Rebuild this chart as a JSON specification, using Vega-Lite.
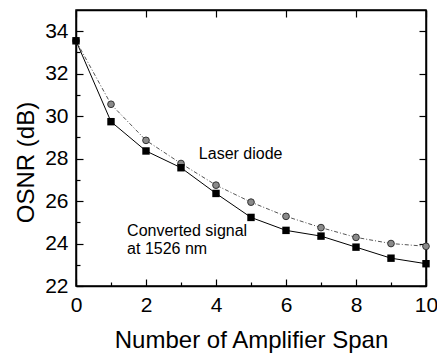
{
  "$schema": "https://vega.github.io/schema/vega-lite/v6.json",
  "width": 350,
  "height": 276,
  "autosize": "none",
  "padding": {"left": 76, "top": 10, "right": 11, "bottom": 68},
  "background": "white",
  "config": {
    "view": {"stroke": "black", "strokeWidth": 1.5},
    "font": "Liberation Sans",
    "axis": {
      "domainColor": "black",
      "domainWidth": 1.5,
      "tickColor": "black",
      "tickWidth": 1.2,
      "labelColor": "black",
      "labelFontSize": 21,
      "labelFont": "Liberation Sans",
      "titleFont": "Liberation Sans",
      "titleFontSize": 24,
      "titleFontWeight": "normal",
      "titleColor": "black",
      "grid": false
    }
  },
  "data": {
    "values": [
      {"series": "Converted", "span": 0, "osnr": 33.55},
      {"series": "Converted", "span": 1, "osnr": 29.74},
      {"series": "Converted", "span": 2, "osnr": 28.36},
      {"series": "Converted", "span": 3, "osnr": 27.57},
      {"series": "Converted", "span": 4, "osnr": 26.36},
      {"series": "Converted", "span": 5, "osnr": 25.23},
      {"series": "Converted", "span": 6, "osnr": 24.62},
      {"series": "Converted", "span": 7, "osnr": 24.35},
      {"series": "Converted", "span": 8, "osnr": 23.83},
      {"series": "Converted", "span": 9, "osnr": 23.31},
      {"series": "Converted", "span": 10, "osnr": 23.05},
      {"series": "Laser", "span": 0, "osnr": 33.55},
      {"series": "Laser", "span": 1, "osnr": 30.56},
      {"series": "Laser", "span": 2, "osnr": 28.86},
      {"series": "Laser", "span": 3, "osnr": 27.77},
      {"series": "Laser", "span": 4, "osnr": 26.75},
      {"series": "Laser", "span": 5, "osnr": 25.95},
      {"series": "Laser", "span": 6, "osnr": 25.28},
      {"series": "Laser", "span": 7, "osnr": 24.75},
      {"series": "Laser", "span": 8, "osnr": 24.29},
      {"series": "Laser", "span": 9, "osnr": 24.0},
      {"series": "Laser", "span": 10, "osnr": 23.87}
    ]
  },
  "layer": [
    {
      "transform": [{"filter": "datum.series === 'Converted'"}],
      "mark": {"type": "line", "color": "black", "strokeWidth": 1},
      "encoding": {
        "x": {
          "field": "span", "type": "quantitative",
          "scale": {"domain": [0, 10], "nice": false, "zero": false},
          "axis": {
            "orient": "bottom",
            "title": "Number of Amplifier Span",
            "values": [0, 1, 2, 3, 4, 5, 6, 7, 8, 9, 10],
            "labelExpr": "datum.value % 2 === 0 ? datum.label : ''",
            "tickSize": {"condition": {"test": "datum.value % 2 === 0", "value": -7}, "value": -4},
            "labelPadding": 15,
            "titleBaseline": "alphabetic",
            "titleY": 61,
            "labelFlush": false
          }
        },
        "y": {
          "field": "osnr", "type": "quantitative",
          "scale": {"domain": [22, 35], "nice": false, "zero": false},
          "axis": {
            "orient": "left",
            "title": "OSNR (dB)",
            "values": [22, 23, 24, 25, 26, 27, 28, 29, 30, 31, 32, 33, 34],
            "labelExpr": "datum.value % 2 === 0 ? datum.label : ''",
            "tickSize": {"condition": {"test": "datum.value % 2 === 0", "value": -7}, "value": -4},
            "labelPadding": 15,
            "titleBaseline": "alphabetic",
            "titleX": -43,
            "titleY": 152,
            "labelFlush": false
          }
        }
      }
    },
    {
      "transform": [{"filter": "datum.series === 'Laser'"}],
      "mark": {"type": "line", "color": "#555555", "strokeWidth": 1, "strokeDash": [4, 2, 1, 2]},
      "encoding": {
        "x": {
          "field": "span", "type": "quantitative",
          "axis": {
            "orient": "top", "title": null, "labels": false,
            "values": [0, 2, 4, 6, 8, 10], "tickSize": -7
          }
        },
        "y": {
          "field": "osnr", "type": "quantitative",
          "axis": {
            "orient": "right", "title": null, "labels": false,
            "values": [22, 24, 26, 28, 30, 32, 34], "tickSize": -7
          }
        }
      }
    },
    {
      "transform": [{"filter": "datum.series === 'Laser'"}],
      "mark": {"type": "point", "shape": "circle", "filled": true, "fill": "#8a8a8a", "stroke": "#333333", "strokeWidth": 1, "size": 45, "opacity": 1},
      "encoding": {
        "x": {"field": "span", "type": "quantitative", "axis": null},
        "y": {"field": "osnr", "type": "quantitative", "axis": null}
      }
    },
    {
      "transform": [{"filter": "datum.series === 'Converted'"}],
      "mark": {"type": "square", "filled": true, "color": "black", "size": 55, "opacity": 1},
      "encoding": {
        "x": {"field": "span", "type": "quantitative", "axis": null},
        "y": {"field": "osnr", "type": "quantitative", "axis": null}
      }
    },
    {
      "data": {"values": [
        {"label": "Laser diode", "x": 3.51, "y": 27.98},
        {"label": "Converted signal", "x": 1.46, "y": 24.34},
        {"label": "at 1526 nm", "x": 1.46, "y": 23.49}
      ]},
      "mark": {"type": "text", "fontSize": 16, "font": "Liberation Sans", "color": "black", "align": "left", "baseline": "alphabetic"},
      "encoding": {
        "x": {"field": "x", "type": "quantitative", "axis": null},
        "y": {"field": "y", "type": "quantitative", "axis": null},
        "text": {"field": "label"}
      }
    }
  ]
}
